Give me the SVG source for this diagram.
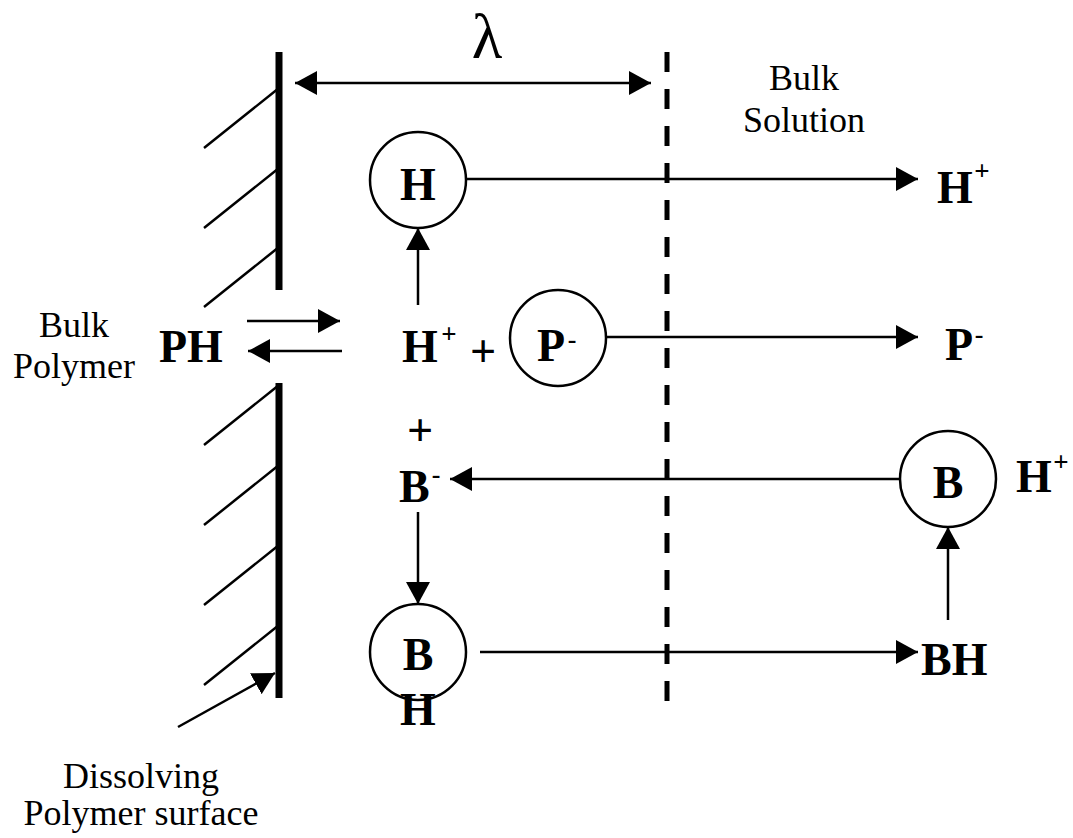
<svg xmlns="http://www.w3.org/2000/svg" width="1073" height="838" viewBox="0 0 1073 838">
<defs>
<marker id="ah" viewBox="0 0 22 24" refX="22" refY="12" markerWidth="22" markerHeight="24" markerUnits="userSpaceOnUse" orient="auto-start-reverse">
<path d="M0,0 L22,12 L0,24 z" fill="#000"/>
</marker>
<style>
.ln{stroke:#000;stroke-width:2.5;fill:none}
.arr{stroke:#000;stroke-width:2.5;fill:none;marker-end:url(#ah)}
.wall{stroke:#000;stroke-width:7;fill:none}
.circ{stroke:#000;stroke-width:2.5;fill:none}
.b{font-family:"Liberation Serif","Times New Roman",serif;font-weight:bold;font-size:46px;fill:#000}
.sup{font-family:"Liberation Serif","Times New Roman",serif;font-weight:bold;font-size:27px;fill:#000}
.min{font-family:"Liberation Serif","Times New Roman",serif;font-weight:bold;font-size:26px;fill:#000}
.r{font-family:"Liberation Serif","Times New Roman",serif;font-size:36px;fill:#000}
</style>
</defs>
<rect width="1073" height="838" fill="#fff"/>

<g id="surface">
<line class="wall" x1="279" y1="52" x2="279" y2="290"/>
<line class="wall" x1="279" y1="383" x2="279" y2="698"/>
<line class="ln" x1="279" y1="88" x2="204" y2="148"/>
<line class="ln" x1="279" y1="168" x2="204" y2="228"/>
<line class="ln" x1="279" y1="247" x2="204" y2="307"/>
<line class="ln" x1="279" y1="385" x2="204" y2="445"/>
<line class="ln" x1="279" y1="465" x2="204" y2="525"/>
<line class="ln" x1="279" y1="545" x2="204" y2="605"/>
<line class="ln" x1="279" y1="625" x2="204" y2="685"/>
</g>

<g id="boundary">
<line x1="667" y1="52" x2="667" y2="712" stroke="#000" stroke-width="5" stroke-dasharray="20 17"/>
</g>

<g id="labels">
<text x="487" y="58" font-family="Liberation Serif,Times New Roman,serif" font-size="63" text-anchor="middle">λ</text>
<text class="r" x="74" y="337" text-anchor="middle">Bulk</text>
<text class="r" x="74" y="378" text-anchor="middle">Polymer</text>
<text class="r" x="804" y="90" text-anchor="middle">Bulk</text>
<text class="r" x="804" y="132" text-anchor="middle">Solution</text>
<text class="r" x="141" y="788" text-anchor="middle">Dissolving</text>
<text class="r" x="141" y="825" text-anchor="middle">Polymer surface</text>
</g>

<g id="PH"><text class="b" x="159" y="362">PH</text></g>

<g id="H_circle">
<circle class="circ" cx="418" cy="180" r="48"/>
<text class="b" x="418" y="200" text-anchor="middle">H</text>
</g>

<g id="H_plus_mid">
<text class="b" x="402" y="362">H</text>
<text class="sup" x="449" y="343" text-anchor="middle">+</text>
</g>
<g id="plus_op1"><text class="b" x="483" y="367" text-anchor="middle" font-size="50">+</text></g>

<g id="P_circle">
<circle class="circ" cx="558" cy="338" r="48"/>
<text class="b" x="537" y="361">P</text>
<text class="min" x="572" y="348" text-anchor="middle">-</text>
</g>

<g id="plus_op2"><text class="b" x="420" y="446" text-anchor="middle" font-size="50">+</text></g>

<g id="B_minus">
<text class="b" x="399" y="502">B</text>
<text class="min" x="436" y="483" text-anchor="middle">-</text>
</g>

<g id="BH_circle">
<circle class="circ" cx="418" cy="652" r="48"/>
<text class="b" x="418" y="670" text-anchor="middle">B</text>
<text class="b" x="418" y="725" text-anchor="middle">H</text>
</g>

<g id="H_plus_right">
<text class="b" x="937" y="203">H</text>
<text class="sup" x="982" y="180" text-anchor="middle">+</text>
</g>

<g id="P_minus_right">
<text class="b" x="945" y="360">P</text>
<text class="min" x="979" y="343" text-anchor="middle">-</text>
</g>

<g id="B_circle_right">
<circle class="circ" cx="948" cy="479" r="48"/>
<text class="b" x="948" y="498" text-anchor="middle">B</text>
<text class="b" x="1016" y="492">H</text>
<text class="sup" x="1061" y="471" text-anchor="middle">+</text>
</g>

<g id="BH_right"><text class="b" x="921" y="675">BH</text></g>

<g id="connectors">
<line class="arr" x1="295" y1="83" x2="651" y2="83" marker-start="url(#ah)"/>
<line class="arr" x1="466" y1="179" x2="918" y2="179"/>
<line class="arr" x1="418" y1="305" x2="418" y2="228"/>
<line class="arr" x1="247" y1="321" x2="340" y2="321"/>
<line class="arr" x1="342" y1="351" x2="248" y2="351"/>
<line class="arr" x1="606" y1="337" x2="918" y2="337"/>
<line class="arr" x1="900" y1="479" x2="450" y2="479"/>
<line class="arr" x1="418" y1="512" x2="418" y2="604"/>
<line class="arr" x1="480" y1="652" x2="918" y2="652"/>
<line class="arr" x1="948" y1="620" x2="948" y2="527"/>
<line class="arr" x1="178" y1="727" x2="275" y2="673"/>
</g>
</svg>
